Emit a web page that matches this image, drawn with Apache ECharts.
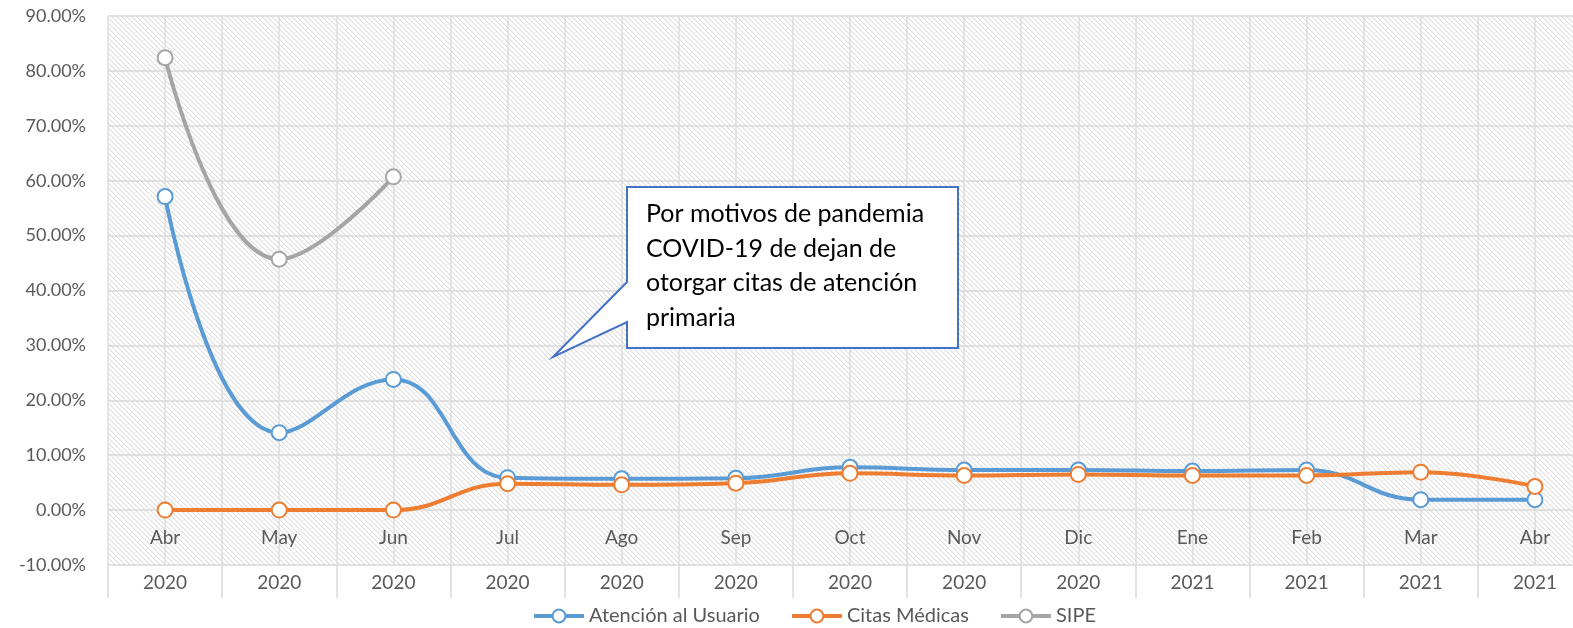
<!DOCTYPE html>
<html>
<head>
<meta charset="utf-8">
<script src="https://cdn.jsdelivr.net/npm/echarts@6/dist/echarts.min.js"></script>
<style>
  html, body { margin: 0; padding: 0; background: #fff; }
  #chart { width: 1573px; height: 628px; }
</style>
</head>
<body>
<div id="chart"></div>
<script>
// datos
const months = ['Abr', 'May', 'Jun', 'Jul', 'Ago', 'Sep', 'Oct', 'Nov', 'Dic', 'Ene', 'Feb', 'Mar', 'Abr']
const years = ['2020', '2020', '2020', '2020', '2020', '2020', '2020', '2020', '2020', '2021', '2021', '2021', '2021']
const atencionUsuario = [57.1, 14.1, 23.8, 5.9, 5.7, 5.8, 7.8, 7.3, 7.3, 7.1, 7.3, 1.9, 1.9]
const citasMedicas = [0, 0, 0, 4.8, 4.6, 4.9, 6.7, 6.3, 6.5, 6.3, 6.3, 6.9, 4.3]
const sipe = [82.4, 45.7, 60.7, null, null, null, null, null, null, null, null, null, null]
const seriesNames = ['Atención al Usuario', 'Citas Médicas', 'SIPE']
const seriesColors = ['#5b9bd5', '#ed7d31', '#a5a5a5']

const FONT = 'Lato, "Liberation Sans", sans-serif'

//fondo rayado del area de trazado
const makeHatch = () => {
  const c = document.createElement('canvas')
  const n = 5
  c.width = n
  c.height = n
  const ctx = c.getContext('2d')
  ctx.fillStyle = '#ffffff'
  ctx.fillRect(0, 0, n, n)
  for (let y = 0; y < n; y++) {
    for (let x = 0; x < n; x++) {
      const d = ((x - y) % n + n) % n
      if (d === 0) {
        ctx.fillStyle = '#dfdfdf'
        ctx.fillRect(x, y, 1, 1)
      } else if (d === 1) {
        ctx.fillStyle = '#f0f0f0'
        ctx.fillRect(x, y, 1, 1)
      }
    }
  }
  return c
}

const chart = echarts.init(document.getElementById('chart'))

const makeSeries = (name, data, color) => ({
  name: name,
  type: 'line',
  xAxisIndex: 0,
  data: data,
  smooth: 0.45,
  symbol: 'emptyCircle',
  symbolSize: 15,
  showAllSymbol: true,
  connectNulls: false,
  itemStyle: { color: color, borderWidth: 3 },
  lineStyle: { color: color, width: 4 },
  emphasis: { disabled: true },
  z: 3
})

const option = {
  animation: false,
  textStyle: { fontFamily: FONT },
  grid: {
    left: 108,
    top: 16,
    width: 1484,
    height: 549,
    outerBoundsMode: 'none',
    containLabel: false,
    show: true,
    borderWidth: 0,
    backgroundColor: { image: makeHatch(), repeat: 'repeat' }
  },
  legend: {
    left: 527,
    top: 601,
    itemWidth: 50,
    itemHeight: 16,
    itemGap: 30,
    data: seriesNames,
    lineStyle: { width: 4 },
    itemStyle: { borderWidth: 3 },
    textStyle: { color: '#595959', fontSize: 20, fontFamily: FONT }
  },
  xAxis: [
    {
      type: 'category',
      data: months,
      position: 'bottom',
      boundaryGap: true,
      axisLine: { show: false },
      axisTick: { show: false },
      splitLine: { show: false },
      axisLabel: {
        inside: true,
        margin: 27,
        verticalAlign: 'middle',
        interval: 0,
        color: '#595959',
        fontSize: 19,
        fontFamily: FONT
      }
    },
    {
      type: 'category',
      data: years,
      position: 'bottom',
      boundaryGap: true,
      axisLine: { show: false },
      axisTick: {
        show: true,
        interval: 0,
        length: 33,
        lineStyle: { color: '#d9d9d9', width: 1.5 }
      },
      splitLine: { show: false },
      axisLabel: {
        margin: 18,
        verticalAlign: 'middle',
        interval: 0,
        color: '#595959',
        fontSize: 19,
        fontFamily: FONT
      }
    },
    {
      // solo para las lineas verticales cada media categoria
      type: 'value',
      position: 'top',
      min: 0,
      max: 26,
      interval: 1,
      axisLine: { show: false },
      axisTick: { show: false },
      axisLabel: { show: false },
      splitLine: { show: true, lineStyle: { color: '#dedede', width: 1.5 } }
    }
  ],
  yAxis: {
    type: 'value',
    min: -10,
    max: 90,
    interval: 10,
    axisLine: { show: false },
    axisTick: { show: false },
    splitLine: { show: true, lineStyle: { color: '#d9d9d9', width: 1.5 } },
    axisLabel: {
      margin: 22,
      color: '#595959',
      fontSize: 18,
      fontFamily: FONT,
      formatter: (v) => v.toFixed(2) + '%'
    }
  },
  series: [
    makeSeries(seriesNames[0], atencionUsuario, seriesColors[0]),
    makeSeries(seriesNames[1], citasMedicas, seriesColors[1]),
    makeSeries(seriesNames[2], sipe, seriesColors[2])
  ],
  graphic: [
    {
      type: 'polygon',
      z: 100,
      shape: {
        points: [[627, 187], [958, 187], [958, 348], [627, 348], [627, 322], [553, 357], [627, 282]]
      },
      style: { fill: '#ffffff', stroke: '#4472c4', lineWidth: 2 }
    },
    {
      type: 'text',
      z: 101,
      left: 646,
      top: 197,
      style: {
        text: 'Por motivos de pandemia\nCOVID-19 de dejan de\notorgar citas de atención\nprimaria',
        font: '25px ' + FONT,
        lineHeight: 34.5,
        fill: '#000000'
      }
    }
  ]
}

option && chart.setOption(option)
</script>
</body>
</html>
